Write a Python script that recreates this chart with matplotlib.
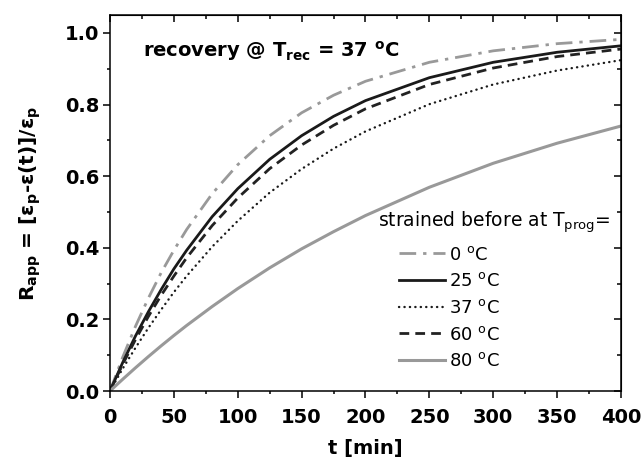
#recovery curves R_app(t) for different programming temperatures
import numpy as np
import matplotlib.pyplot as plt

plt.rcParams['font.family'] = ['DejaVu Sans']
plt.rcParams['mathtext.default'] = 'regular'

# time [min]
t = [0, 10, 20, 30, 40, 50, 60, 80, 100, 125, 150, 175, 200, 250, 300, 350, 400]

# R_app
r_0C = [0, 0.095, 0.181, 0.259, 0.330, 0.393, 0.451, 0.551, 0.632, 0.713, 0.777, 0.826, 0.865, 0.918, 0.950, 0.970, 0.982]
r_25C = [0, 0.080, 0.154, 0.221, 0.283, 0.341, 0.393, 0.487, 0.565, 0.647, 0.713, 0.767, 0.811, 0.875, 0.918, 0.946, 0.964]
r_37C = [0, 0.063, 0.121, 0.176, 0.227, 0.276, 0.321, 0.403, 0.475, 0.554, 0.620, 0.677, 0.725, 0.801, 0.856, 0.895, 0.924]
r_60C = [0, 0.075, 0.144, 0.208, 0.267, 0.321, 0.372, 0.462, 0.539, 0.621, 0.687, 0.742, 0.788, 0.856, 0.902, 0.934, 0.955]
r_80C = [0, 0.033, 0.065, 0.096, 0.126, 0.155, 0.183, 0.236, 0.286, 0.344, 0.397, 0.445, 0.490, 0.569, 0.636, 0.692, 0.740]

labels = ['0 $^{o}$C', '25 $^{o}$C', '37 $^{o}$C', '60 $^{o}$C', '80 $^{o}$C']

fig = plt.figure(figsize=(6.41, 4.65), dpi=100)
ax = fig.add_axes([0.1716, 0.1591, 0.7972, 0.8086])

ax.plot(t, r_0C, color='#999999', lw=2.0, ls=(0, (6, 2.5, 1.2, 2.5)), label=labels[0])
ax.plot(t, r_25C, color='#1a1a1a', lw=2.0, ls='-', label=labels[1])
ax.plot(t, r_37C, color='#1a1a1a', lw=1.7, ls=(0, (0.1, 2.2)), dash_capstyle='round', label=labels[2])
ax.plot(t, r_60C, color='#222222', lw=2.0, ls=(0, (3.5, 2.2)), label=labels[3])
ax.plot(t, r_80C, color='#999999', lw=2.2, ls='-', label=labels[4])

ax.set_xlim(0, 400)
ax.set_ylim(0, 1.05)
ax.set_xticks(np.arange(0, 401, 50))
ax.set_xticks(np.arange(0, 401, 25), minor=True)
ax.set_yticks(np.arange(0, 1.01, 0.2))
ax.set_yticks(np.arange(0, 1.01, 0.1), minor=True)
ax.set_yticklabels(['0.0', '0.2', '0.4', '0.6', '0.8', '1.0'])

for s in ax.spines.values():
    s.set_linewidth(1.1)
ax.tick_params(which='major', direction='out', length=5, width=1.1, labelsize=14)
ax.tick_params(which='minor', direction='out', length=2.5, width=1.1)
ax.tick_params(axis='y', which='major', pad=2.5)
ax.tick_params(axis='x', which='major', pad=7)
for lab in ax.get_xticklabels() + ax.get_yticklabels():
    lab.set_fontweight('bold')

# inward ticks on top and right
top = ax.secondary_xaxis('top')
top.set_xticks(np.arange(0, 401, 50))
top.set_xticks(np.arange(0, 401, 25), minor=True)
top.tick_params(which='major', direction='in', length=5, width=1.1, labeltop=False)
top.tick_params(which='minor', direction='in', length=3, width=1.1)
right = ax.secondary_yaxis('right')
right.set_yticks(np.arange(0, 1.01, 0.2))
right.set_yticks(np.arange(0, 1.01, 0.1), minor=True)
right.tick_params(which='major', direction='in', length=5, width=1.1, labelright=False)
right.tick_params(which='minor', direction='in', length=3, width=1.1)

ax.set_xlabel('t [min]', fontsize=14, fontweight='bold', labelpad=9)
ax.set_ylabel('R$_{app}$ = [ε$_{p}$-ε(t)]/ε$_{p}$', fontsize=14.5, fontweight='bold', labelpad=16)

ax.text(0.0646, 0.888, 'recovery @ T$_{rec}$ = 37 $^{o}$C', transform=ax.transAxes,
        fontsize=14, fontweight='bold', ha='left', va='baseline')

ax.text(0.524, 0.436, 'strained before at T$_{prog}$=', transform=ax.transAxes,
        fontsize=13.5, ha='left', va='baseline')
ax.legend(loc='upper left', bbox_to_anchor=(0.566, 0.387), frameon=False, fontsize=13,
          handlelength=2.55, handletextpad=0.22, labelspacing=0.48, borderpad=0, borderaxespad=0)

fig.savefig('out.png', dpi=100)
